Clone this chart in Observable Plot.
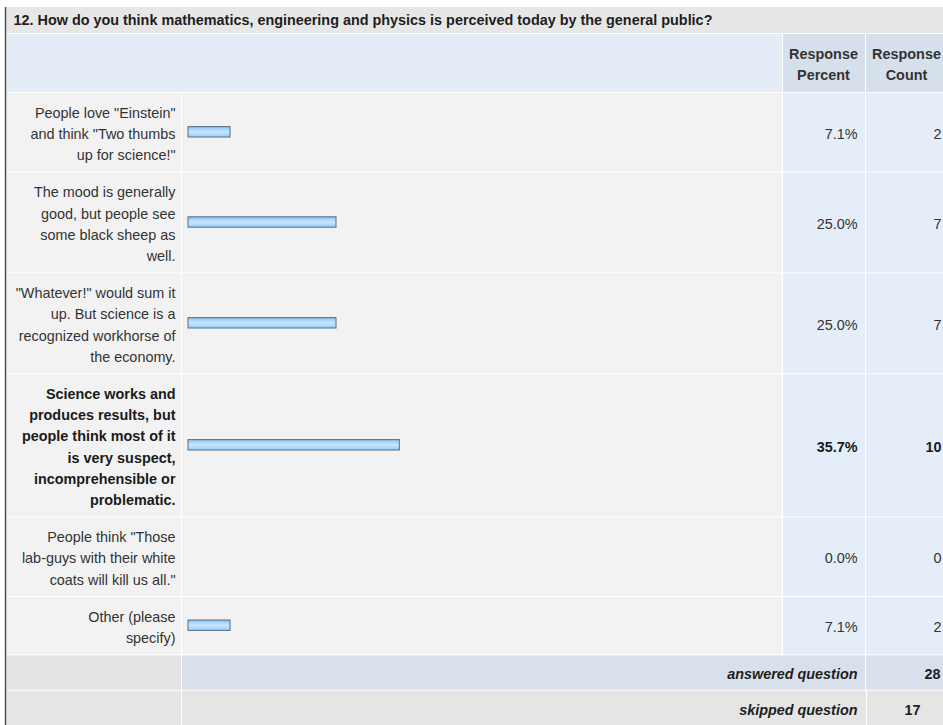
<!DOCTYPE html>
<html>
<head>
<meta charset="utf-8">
<script src="https://cdn.jsdelivr.net/npm/d3@7"></script>
<script src="https://cdn.jsdelivr.net/npm/@observablehq/plot@0.6"></script>
<style>
  html, body { margin: 0; padding: 0; background: #fff; overflow: hidden; }
  #chart svg { overflow: hidden; display: block; }
</style>
</head>
<body>
<div id="chart"></div>
<script>
// ---- data ----
const title = "12. How do you think mathematics, engineering and physics is perceived today by the general public?";
const answers = [
  "People love \"Einstein\"\nand think \"Two thumbs\nup for science!\"",
  "The mood is generally\ngood, but people see\nsome black sheep as\nwell.",
  "\"Whatever!\" would sum it\nup. But science is a\nrecognized workhorse of\nthe economy.",
  "Science works and\nproduces results, but\npeople think most of it\nis very suspect,\nincomprehensible or\nproblematic.",
  "People think \"Those\nlab-guys with their white\ncoats will kill us all.\"",
  "Other (please\nspecify)"
];
const percents = [7.1, 25.0, 25.0, 35.7, 0.0, 7.1];
const counts = [2, 7, 7, 10, 0, 2];
const highlighted = [false, false, false, true, false, false];
const headerPercent = "Response\nPercent";
const headerCount = "Response\nCount";
const summaryLabels = ["answered question", "skipped question"];
const summaryValues = [28, 17];

// ---- layout ----
const W = 943, H = 725;
const FS = 14.4, LH = 21.2;
const titleY1 = 7, headY1 = 33, headY2 = 92;
let yy = headY2;
const rows = answers.map((label, i) => {
  const n = label.split("\n").length;
  const h = n * LH + 16;
  const r = {label, pct: percents[i], count: counts[i], bold: highlighted[i], y1: yy, y2: yy + h, yc: yy + h / 2};
  yy += h;
  return r;
});
const sumY1 = yy, sumH = (H - sumY1) / 2;
const summary = summaryLabels.map((label, i) => ({
  label, value: summaryValues[i], y1: sumY1 + i * sumH, y2: sumY1 + (i + 1) * sumH, yc: sumY1 + (i + 0.5) * sumH, i
}));

// column extents (pixels)
const col = {
  full: [7, W], head: [7, 782], label: [7, 181], bar: [182, 782], pct: [783, 865], count: [866, W],
  mid: [182, 865], midS: [182, 866], countS: [867, W], border: [4.8, 6.3]
};
function band(data, c, fill, top = 1) {
  return Plot.rect(data, {
    y1: d => d.y1 + top, y2: "y2",
    fill, insetLeft: col[c][0], insetRight: W - col[c][1]
  });
}

const textBase = {fontFamily: "'Liberation Sans', Arial, sans-serif", fontSize: FS, lineHeight: LH / FS, frameAnchor: "left"};
const ans = summary.filter(d => d.i === 0), skp = summary.filter(d => d.i === 1);

const plot = Plot.plot({
  width: W, height: H,
  margin: 0,
  style: {background: "#ffffff", fontFamily: "'Liberation Sans', Arial, sans-serif", overflow: "hidden"},
  x: {domain: [0, 100], range: [188, 780], axis: null},
  y: {type: "identity", axis: null},
  marks: [
    // backgrounds
    band([{y1: titleY1, y2: headY1}], "full", "#e7e7e7", 0),
    band([{y1: headY1, y2: headY2}], "head", "#e3ecf7"),
    band([{y1: headY1, y2: headY2}], "pct", "#d6e0eb"),
    band([{y1: headY1, y2: headY2}], "count", "#d6e0eb"),
    band(rows, "label", "#f2f2f2"),
    band(rows, "bar", "#f2f2f2"),
    band(rows, "pct", "#e4edf8"),
    band(rows, "count", "#e4edf8"),
    band(ans, "label", "#e3e3e3"),
    band(ans, "mid", "#d8e1eb"),
    band(ans, "count", "#d8e1eb"),
    band(skp, "label", "#e5e5e5"),
    band(skp, "midS", "#e5e5e5"),
    band(skp, "countS", "#e5e5e5"),
    // left border
    band([{y1: titleY1, y2: H}], "border", "#4a4a4a", 0),
    // bars
    Plot.rect(rows.filter(d => d.pct > 0), {
      x1: () => 0, x2: "pct",
      y1: d => d.yc - 5.2, y2: d => d.yc + 5.2,
      fill: "url(#barGrad)", stroke: "#5b6e84", strokeWidth: 1
    }),
    // title
    Plot.text([title], {...textBase, text: d => d, y: () => 17.5, dx: 13, textAnchor: "start", fontWeight: "bold", fill: "#1e1e1e"}),
    // headers
    Plot.text([headerPercent], {...textBase, text: d => d, y: () => 62.5, dx: 823, textAnchor: "middle", fontWeight: "bold", fill: "#333"}),
    Plot.text([headerCount], {...textBase, text: d => d, y: () => 62.5, dx: 906, textAnchor: "middle", fontWeight: "bold", fill: "#333"}),
    // answer labels
    Plot.text(rows.filter(d => !d.bold), {...textBase, text: "label", y: "yc", dx: 175, textAnchor: "end", fill: "#333"}),
    Plot.text(rows.filter(d => d.bold), {...textBase, text: "label", y: "yc", dx: 175, textAnchor: "end", fontWeight: "bold", fill: "#1a1a1a"}),
    // percents
    Plot.text(rows.filter(d => !d.bold), {...textBase, text: d => d.pct.toFixed(1) + "%", y: "yc", dx: 857, textAnchor: "end", fill: "#333"}),
    Plot.text(rows.filter(d => d.bold), {...textBase, text: d => d.pct.toFixed(1) + "%", y: "yc", dx: 857, textAnchor: "end", fontWeight: "bold", fill: "#1a1a1a"}),
    // counts
    Plot.text(rows.filter(d => !d.bold), {...textBase, text: d => String(d.count), y: "yc", dx: 941, textAnchor: "end", fill: "#333"}),
    Plot.text(rows.filter(d => d.bold), {...textBase, text: d => String(d.count), y: "yc", dx: 941, textAnchor: "end", fontWeight: "bold", fill: "#1a1a1a"}),
    // summary
    Plot.text(summary, {...textBase, text: "label", y: "yc", dx: 857, textAnchor: "end", fontWeight: "bold", fontStyle: "italic", fill: "#1e1e1e"}),
    Plot.text(ans, {...textBase, text: d => String(d.value), y: "yc", dx: 924, textAnchor: "start", fontWeight: "bold", fill: "#1e1e1e"}),
    Plot.text(skp, {...textBase, text: d => String(d.value), y: "yc", dx: 912, textAnchor: "middle", fontWeight: "bold", fill: "#1e1e1e"})
  ]
});

// gradient for the bars
const defs = d3.select(plot).insert("defs", ":first-child");
const g = defs.append("linearGradient").attr("id", "barGrad").attr("x1", 0).attr("y1", 0).attr("x2", 0).attr("y2", 1);
[[0, "#8fb3d6"], [0.18, "#9fd0fb"], [0.5, "#c6e6ff"], [0.8, "#a9d8fd"], [1, "#96c8f2"]].forEach(([o, c]) =>
  g.append("stop").attr("offset", o).attr("stop-color", c));

document.getElementById("chart").appendChild(plot);
</script>
</body>
</html>
